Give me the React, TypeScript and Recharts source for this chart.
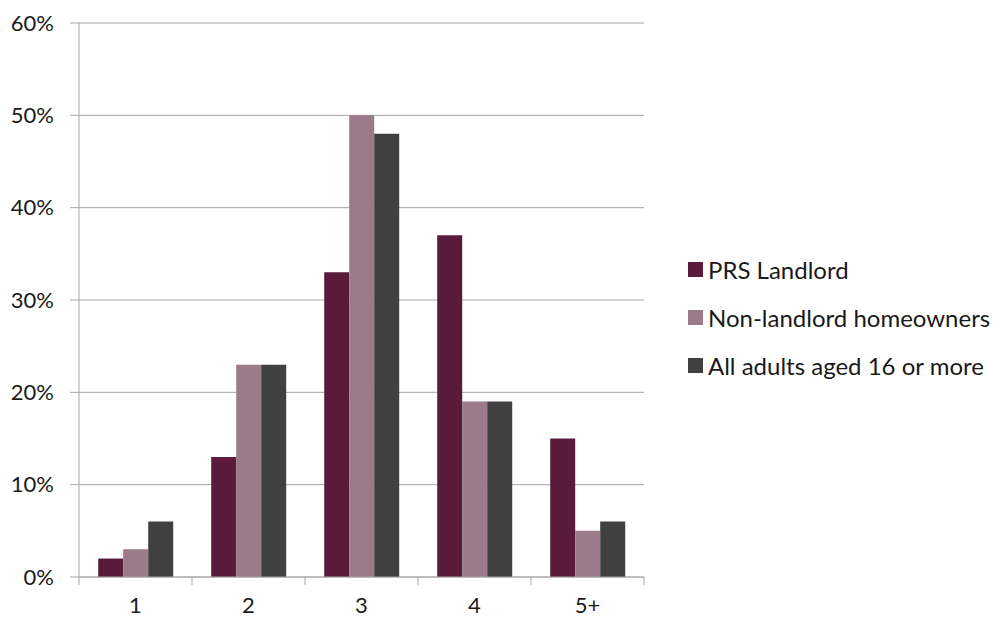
import React from 'react';
import { BarChart, Bar, XAxis, YAxis, CartesianGrid } from 'recharts';

// Share of people by household size (values in %)
const categories = ['1', '2', '3', '4', '5+'];
const prsLandlord = [2, 13, 33, 37, 15];
const nonLandlordHomeowners = [3, 23, 50, 19, 5];
const allAdults = [6, 23, 48, 19, 6];
const yTicks = [0, 10, 20, 30, 40, 50, 60];

const seriesList = [
  { key: 'prs', name: 'PRS Landlord', color: '#5A1A3C' },
  { key: 'nonLandlord', name: 'Non-landlord homeowners', color: '#9B7A89' },
  { key: 'all', name: 'All adults aged 16 or more', color: '#404040' },
];

const data = categories.map((c, i) => ({
  category: c,
  prs: prsLandlord[i],
  nonLandlord: nonLandlordHomeowners[i],
  all: allAdults[i],
}));

const W = 1000;
const H = 621;
const MARGIN = { top: 23, right: 356, left: 0, bottom: 0 };
const Y_AXIS_W = 79;
const X_AXIS_H = 44;
const band = (W - MARGIN.left - MARGIN.right - Y_AXIS_W) / categories.length;
const FONT = 'Lato, "Open Sans", sans-serif';
const AXIS_GRAY = '#A6A6A6';

// x tick: label at category centre, tick mark at category boundaries (Excel style)
const CategoryTick = (props: any) => {
  const { x, y, payload, index } = props;
  const top = y - 8 - 12;
  return (
    <g>
      <line x1={x - band / 2} x2={x - band / 2} y1={top} y2={top + 8} stroke={AXIS_GRAY} />
      {index === categories.length - 1 && (
        <line x1={x + band / 2} x2={x + band / 2} y1={top} y2={top + 8} stroke={AXIS_GRAY} />
      )}
      <text x={x} y={y} dy="0.71em" textAnchor="middle" fill="#1a1a1a" fontSize={22} fontFamily={FONT}>
        {payload.value}
      </text>
    </g>
  );
};

const LegendBox = () => (
  <div
    style={{
      position: 'absolute',
      left: 688,
      top: 245,
      fontFamily: FONT,
      fontSize: 24,
      color: '#1a1a1a',
      whiteSpace: 'nowrap',
    }}
  >
    {seriesList.map((s) => (
      <div key={s.key} style={{ display: 'flex', alignItems: 'center', height: 48 }}>
        <span style={{ display: 'inline-block', width: 15, height: 15, background: s.color, marginRight: 5 }} />
        <span>{s.name}</span>
      </div>
    ))}
  </div>
);

const App = () => {
  return (
    <div style={{ position: 'absolute', left: 0, top: 0, width: W, height: H, background: '#fff' }}>
      <BarChart width={W} height={H} data={data} margin={MARGIN} barGap={0} barCategoryGap="17%">
        <CartesianGrid vertical={false} stroke={AXIS_GRAY} />
        <XAxis
          dataKey="category"
          height={X_AXIS_H}
          stroke={AXIS_GRAY}
          tickLine={false}
          tickSize={8}
          tickMargin={12}
          tick={<CategoryTick />}
          interval={0}
        />
        <YAxis
          width={Y_AXIS_W}
          domain={[0, 60]}
          ticks={yTicks}
          stroke={AXIS_GRAY}
          tickSize={9}
          tickMargin={16}
          tickFormatter={(v) => `${v}%`}
          tick={{ fill: '#1a1a1a', fontSize: 22, fontFamily: FONT }}
        />
        {seriesList.map((s) => (
          <Bar key={s.key} dataKey={s.key} name={s.name} fill={s.color} isAnimationActive={false} />
        ))}
      </BarChart>
      <LegendBox />
    </div>
  );
};

export default App;
